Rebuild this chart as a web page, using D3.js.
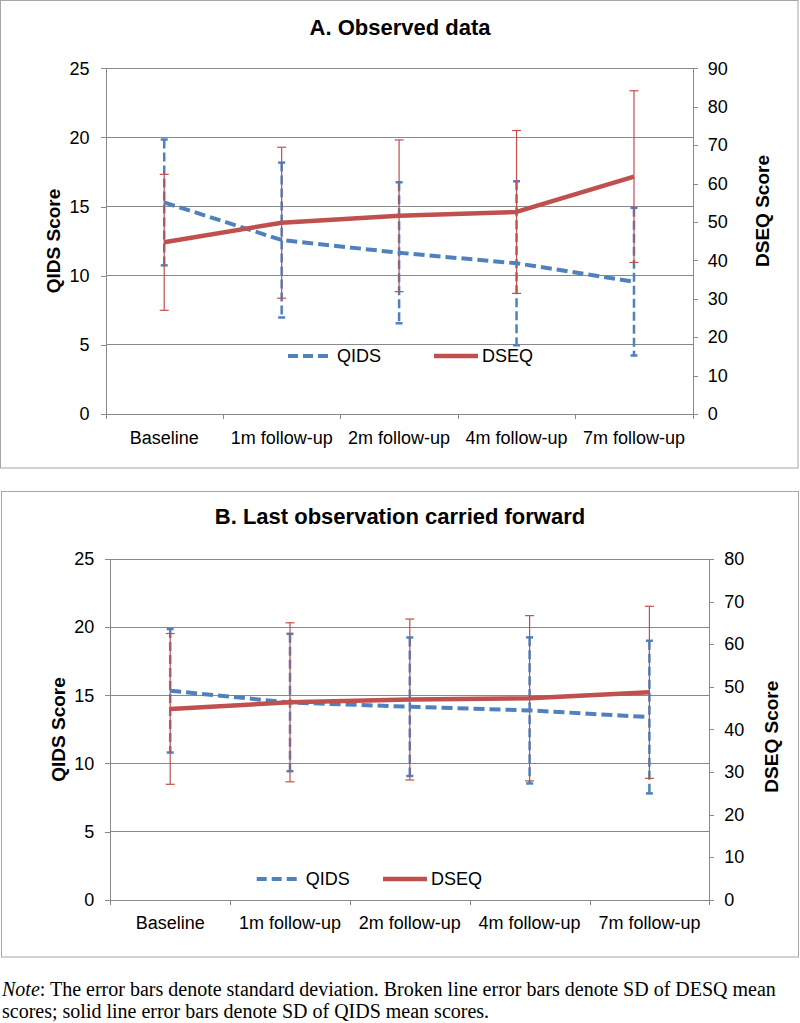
<!DOCTYPE html>
<html><head><meta charset="utf-8">
<script src="https://cdn.jsdelivr.net/npm/d3@7"></script>
<style>
body{margin:0;background:#fff;}
svg{display:block;}
</style></head>
<body>
<svg id="chart" width="800" height="1023"></svg>
<script>
// ---------- data ----------
const categories = ["Baseline","1m follow-up","2m follow-up","4m follow-up","7m follow-up"];
const leftTicks = [0,5,10,15,20,25];
const rightTicksA = [0,10,20,30,40,50,60,70,80,90];
const rightTicksB = [0,10,20,30,40,50,60,70,80];

// Panel A: observed data
const qidsA   = [15.3, 12.58, 11.66, 10.9, 9.57];
const qidsSdA = [4.55, 5.6, 5.1, 5.93, 5.34];
const dseqA   = [44.7, 49.8, 51.6, 52.6, 61.8];
const dseqSdA = [17.7, 19.65, 19.75, 21.2, 22.35];

// Panel B: last observation carried forward
const qidsB   = [15.33, 14.47, 14.16, 13.89, 13.4];
const qidsSdB = [4.53, 5.04, 5.08, 5.36, 5.6];
const dseqB   = [44.8, 46.35, 47.0, 47.3, 48.7];
const dseqSdB = [17.7, 18.67, 18.9, 19.4, 20.2];

const titles = ["A. Observed data","B. Last observation carried forward"];
const seriesNames = ["QIDS","DSEQ"];
const note1 = "The error bars denote standard deviation. Broken line error bars denote SD of DESQ mean";
const note2 = "scores; solid line error bars denote SD of QIDS mean scores.";

// ---------- drawing ----------
const BLUE = "#4f81bd", RED = "#c0504d", GRID = "#898989";
const FONT = "'Liberation Sans', Arial, sans-serif";
const svg = d3.select("#chart");

function panel(cfg){
  const g = svg.append("g");
  g.append("rect").attr("x",cfg.fx).attr("y",cfg.fy).attr("width",cfg.fw).attr("height",cfg.fh)
    .attr("fill","#fff").attr("stroke","#a6a6a6").attr("stroke-width",1);

  g.append("text").attr("x",400).attr("y",cfg.titleY).attr("text-anchor","middle")
    .attr("dominant-baseline","central").attr("font-family",FONT).attr("font-weight","bold")
    .attr("font-size",22).text(cfg.title);

  const x = d3.scaleBand().domain(categories).range([cfg.left,cfg.right]);
  const xb = d3.scaleLinear().domain([0,categories.length]).range([cfg.left,cfg.right]);
  const yL = d3.scaleLinear().domain([0,25]).range([cfg.bottom,cfg.top]);
  const yR = d3.scaleLinear().domain([0,cfg.rightMax]).range([cfg.bottom,cfg.top]);
  const cx = c => x(c) + x.bandwidth()/2;

  // gridlines
  g.append("g").selectAll("line").data(leftTicks.filter(t=>t>0)).join("line")
    .attr("x1",cfg.left).attr("x2",cfg.right).attr("y1",d=>yL(d)).attr("y2",d=>yL(d))
    .attr("stroke",GRID).attr("stroke-width",1).attr("shape-rendering","crispEdges");

  // left axis
  const ax = g.append("g").attr("transform",`translate(${cfg.left},0)`)
    .call(d3.axisLeft(yL).tickValues(leftTicks).tickSize(5).tickPadding(11));
  // right axis
  const ar = g.append("g").attr("transform",`translate(${cfg.right},0)`)
    .call(d3.axisRight(yR).tickValues(cfg.rightTicks).tickSize(5).tickPadding(10));
  // bottom axis tick marks at category boundaries
  const ab = g.append("g").attr("transform",`translate(0,${cfg.bottom})`)
    .call(d3.axisBottom(xb).ticks(categories.length).tickSize(5).tickFormat(""));
  // category labels
  const al = g.append("g").attr("transform",`translate(0,${cfg.bottom})`)
    .call(d3.axisBottom(x).tickSize(0).tickPadding(cfg.catPad));
  al.select(".domain").remove();
  [ax,ar,ab,al].forEach(a=>{
    a.selectAll("path,line").attr("stroke",GRID).attr("shape-rendering","crispEdges");
    a.selectAll("text").attr("font-family",FONT).attr("font-size",18).attr("fill","#000");
  });

  // axis titles
  g.append("text").attr("transform",`translate(${cfg.ltX},${cfg.ltY}) rotate(-90)`)
    .attr("text-anchor","middle").attr("dominant-baseline","central")
    .attr("font-family",FONT).attr("font-weight","bold").attr("font-size",19).text("QIDS Score");
  g.append("text").attr("transform",`translate(${cfg.rtX},${cfg.rtY}) rotate(-90)`)
    .attr("text-anchor","middle").attr("dominant-baseline","central")
    .attr("font-family",FONT).attr("font-weight","bold").attr("font-size",19).text("DSEQ Score");

  // QIDS error bars (dashed blue)
  const qe = g.append("g");
  categories.forEach((c,i)=>{
    const lo = yL(cfg.qids[i]-cfg.qidsSd[i]), hi = yL(cfg.qids[i]+cfg.qidsSd[i]);
    qe.append("line").attr("x1",cx(c)).attr("x2",cx(c)).attr("y1",hi).attr("y2",lo)
      .attr("stroke",BLUE).attr("stroke-width",2.5).attr("stroke-dasharray","9,4");
    [hi,lo].forEach(yy=>qe.append("line").attr("x1",cx(c)-3.5).attr("x2",cx(c)+3.5)
      .attr("y1",yy).attr("y2",yy).attr("stroke",BLUE).attr("stroke-width",2.5));
  });
  // DSEQ error bars (solid red)
  const de = g.append("g");
  categories.forEach((c,i)=>{
    const lo = yR(cfg.dseq[i]-cfg.dseqSd[i]), hi = yR(cfg.dseq[i]+cfg.dseqSd[i]);
    de.append("line").attr("x1",cx(c)).attr("x2",cx(c)).attr("y1",hi).attr("y2",lo)
      .attr("stroke",RED).attr("stroke-width",1.2);
    [hi,lo].forEach(yy=>de.append("line").attr("x1",cx(c)-4.5).attr("x2",cx(c)+4.5)
      .attr("y1",yy).attr("y2",yy).attr("stroke",RED).attr("stroke-width",1.2));
  });

  // lines
  g.append("path").datum(cfg.qids)
    .attr("d",d3.line().x((d,i)=>cx(categories[i])).y(d=>yL(d)))
    .attr("fill","none").attr("stroke",BLUE).attr("stroke-width",4).attr("stroke-dasharray","11,5");
  g.append("path").datum(cfg.dseq)
    .attr("d",d3.line().x((d,i)=>cx(categories[i])).y(d=>yR(d)))
    .attr("fill","none").attr("stroke",RED).attr("stroke-width",4.5).attr("stroke-linejoin","round");

  // legend
  const lg = g.append("g");
  lg.append("line").attr("x1",cfg.lgQ).attr("x2",cfg.lgQ+40).attr("y1",cfg.lgY).attr("y2",cfg.lgY)
    .attr("stroke",BLUE).attr("stroke-width",4).attr("stroke-dasharray","10,5");
  lg.append("text").attr("x",cfg.lgQ+49).attr("y",cfg.lgY).attr("dominant-baseline","central")
    .attr("font-family",FONT).attr("font-size",18).text(seriesNames[0]);
  lg.append("line").attr("x1",cfg.lgD).attr("x2",cfg.lgD+44).attr("y1",cfg.lgY).attr("y2",cfg.lgY)
    .attr("stroke",RED).attr("stroke-width",4.5);
  lg.append("text").attr("x",cfg.lgD+48).attr("y",cfg.lgY).attr("dominant-baseline","central")
    .attr("font-family",FONT).attr("font-size",18).text(seriesNames[1]);
}

panel({fx:0.5,fy:0.5,fw:797.5,fh:467.5,title:titles[0],titleY:27,
  left:105.5,right:692.7,top:68.3,bottom:414,rightMax:90,rightTicks:rightTicksA,catPad:17,
  ltX:53,ltY:241,rtX:762.7,rtY:211,lgY:356,lgQ:288,lgD:434,
  qids:qidsA,qidsSd:qidsSdA,dseq:dseqA,dseqSd:dseqSdA});

panel({fx:1.5,fy:491.5,fw:797,fh:465.5,title:titles[1],titleY:516.7,
  left:110.3,right:709.3,top:559,bottom:899.7,rightMax:80,rightTicks:rightTicksB,catPad:17,
  ltX:58.3,ltY:729.5,rtX:771.7,rtY:736.7,lgY:879,lgQ:256.7,lgD:383,
  qids:qidsB,qidsSd:qidsSdB,dseq:dseqB,dseqSd:dseqSdB});

// note
const SERIF = "'Liberation Serif', 'Times New Roman', serif";
const n1 = svg.append("text").attr("x",2).attr("y",996).attr("font-family",SERIF).attr("font-size",20);
n1.append("tspan").attr("font-style","italic").text("Note");
n1.append("tspan").text(": " + note1);
svg.append("text").attr("x",2).attr("y",1017.5).attr("font-family",SERIF).attr("font-size",20).text(note2);
</script>
</body></html>
